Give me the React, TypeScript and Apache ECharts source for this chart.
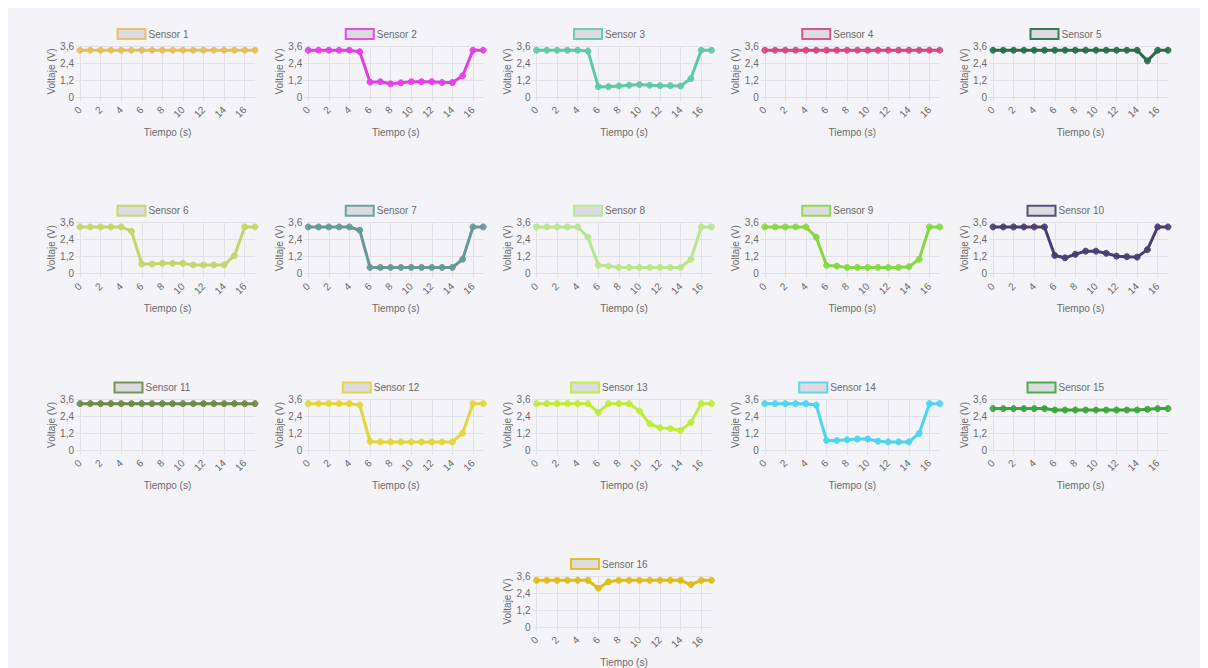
import React, { useEffect, useRef } from "react";
import * as echarts from "echarts";

// Time axis (seconds)
const tiempos = ["0", "1", "2", "3", "4", "5", "6", "7", "8", "9", "10", "11", "12", "13", "14", "15", "16", "17"];

// Voltage readings per sensor (V)
const sensor1 = [3.3, 3.3, 3.3, 3.3, 3.3, 3.3, 3.3, 3.3, 3.3, 3.3, 3.3, 3.3, 3.3, 3.3, 3.3, 3.3, 3.3, 3.3];
const sensor2 = [3.3, 3.3, 3.3, 3.3, 3.3, 3.2, 1.05, 1.08, 0.93, 1.0, 1.08, 1.08, 1.08, 1.02, 1.02, 1.5, 3.3, 3.3];
const sensor3 = [3.3, 3.3, 3.3, 3.3, 3.3, 3.25, 0.73, 0.73, 0.78, 0.83, 0.88, 0.83, 0.8, 0.8, 0.78, 1.3, 3.3, 3.3];
const sensor4 = [3.3, 3.3, 3.3, 3.3, 3.3, 3.3, 3.3, 3.3, 3.3, 3.3, 3.3, 3.3, 3.3, 3.3, 3.3, 3.3, 3.3, 3.3];
const sensor5 = [3.3, 3.3, 3.3, 3.3, 3.3, 3.3, 3.3, 3.3, 3.3, 3.3, 3.3, 3.3, 3.3, 3.3, 3.3, 2.55, 3.3, 3.3];
const sensor6 = [3.3, 3.3, 3.3, 3.3, 3.3, 3.0, 0.68, 0.68, 0.73, 0.73, 0.73, 0.62, 0.62, 0.62, 0.62, 1.27, 3.3, 3.3];
const sensor7 = [3.3, 3.3, 3.3, 3.3, 3.3, 3.07, 0.44, 0.44, 0.44, 0.44, 0.44, 0.44, 0.44, 0.44, 0.44, 1.02, 3.3, 3.3];
const sensor8 = [3.3, 3.3, 3.3, 3.3, 3.3, 2.58, 0.6, 0.54, 0.44, 0.44, 0.44, 0.44, 0.44, 0.44, 0.44, 1.02, 3.3, 3.3];
const sensor9 = [3.3, 3.3, 3.3, 3.3, 3.3, 2.58, 0.58, 0.54, 0.44, 0.44, 0.44, 0.44, 0.44, 0.44, 0.49, 1.02, 3.3, 3.3];
const sensor10 = [3.3, 3.3, 3.3, 3.3, 3.3, 3.3, 1.29, 1.12, 1.37, 1.59, 1.59, 1.44, 1.24, 1.2, 1.17, 1.7, 3.3, 3.3];
const sensor11 = [3.3, 3.3, 3.3, 3.3, 3.3, 3.3, 3.3, 3.3, 3.3, 3.3, 3.3, 3.3, 3.3, 3.3, 3.3, 3.3, 3.3, 3.3];
const sensor12 = [3.3, 3.3, 3.3, 3.3, 3.3, 3.2, 0.63, 0.6, 0.6, 0.6, 0.6, 0.6, 0.6, 0.6, 0.6, 1.22, 3.3, 3.3];
const sensor13 = [3.3, 3.3, 3.3, 3.3, 3.3, 3.3, 2.68, 3.3, 3.3, 3.3, 2.78, 1.88, 1.59, 1.54, 1.41, 1.98, 3.3, 3.3];
const sensor14 = [3.3, 3.3, 3.3, 3.3, 3.3, 3.2, 0.7, 0.7, 0.75, 0.8, 0.8, 0.65, 0.6, 0.6, 0.6, 1.2, 3.3, 3.3];
const sensor15 = [2.95, 2.95, 2.95, 2.95, 2.95, 2.95, 2.85, 2.85, 2.85, 2.85, 2.85, 2.85, 2.85, 2.85, 2.85, 2.9, 2.95, 2.95];
const sensor16 = [3.3, 3.3, 3.3, 3.3, 3.3, 3.3, 2.74, 3.2, 3.3, 3.3, 3.3, 3.3, 3.3, 3.3, 3.3, 3.0, 3.3, 3.3];

const nombres = [
  "Sensor 1", "Sensor 2", "Sensor 3", "Sensor 4", "Sensor 5", "Sensor 6", "Sensor 7", "Sensor 8",
  "Sensor 9", "Sensor 10", "Sensor 11", "Sensor 12", "Sensor 13", "Sensor 14", "Sensor 15", "Sensor 16",
];
const colores = [
  "#e6be5c", "#e53de6", "#5ecaa4", "#d5467f", "#286e48", "#c3d66a", "#669898", "#b8e58d",
  "#86d842", "#4a3d72", "#6a8a4a", "#e2d63a", "#bfec38", "#4cd5ee", "#3aa63a", "#e2bb14",
];
const lecturas = [
  sensor1, sensor2, sensor3, sensor4, sensor5, sensor6, sensor7, sensor8,
  sensor9, sensor10, sensor11, sensor12, sensor13, sensor14, sensor15, sensor16,
];

const FONT = "'Liberation Sans', Arial, Helvetica, sans-serif";
const TEXT = "#6b6b6b";
const GRID_LINE = "#e2e1e8";

export default function App() {
  const ref = useRef<HTMLDivElement>(null);

  useEffect(() => {
    if (!ref.current) return;
    const chart = echarts.init(ref.current, null, { renderer: "svg" });

    const grid: any[] = [];
    const xAxis: any[] = [];
    const yAxis: any[] = [];
    const series: any[] = [];
    const legend: any[] = [];

    nombres.forEach((nombre, i) => {
      const row = Math.floor(i / 5);
      const col = i === 15 ? 2 : i % 5;
      const left = 72 + 228.25 * col;
      const top = 38 + 176.7 * row;
      const textW = nombre.length > 8 ? 42 : 36;

      grid.push({ left, top, width: 175, height: 51 });

      legend.push({
        data: [nombre],
        left: 143 + 228.25 * col - (33 + textW) / 2,
        top: 20 + 176.7 * row,
        padding: 0,
        itemWidth: 28,
        itemHeight: 10,
        itemGap: 4,
        icon: "rect",
        selectedMode: false,
        itemStyle: { color: "#d9d8dd", borderColor: colores[i], borderWidth: 2 },
        textStyle: { color: TEXT, fontFamily: FONT, fontSize: 10, padding: [0, 0, 0, -2] },
      });

      xAxis.push({
        type: "category",
        gridIndex: i,
        data: tiempos,
        boundaryGap: false,
        name: "Tiempo (s)",
        nameLocation: "middle",
        nameGap: 30,
        nameTextStyle: { color: TEXT, fontFamily: FONT, fontSize: 10 },
        axisLine: { lineStyle: { color: GRID_LINE } },
        axisTick: { show: true, interval: 1, length: 4, lineStyle: { color: GRID_LINE } },
        axisLabel: { interval: 1, rotate: 45, color: TEXT, fontFamily: FONT, fontSize: 10, margin: 11 },
        splitLine: { show: true, interval: 1, lineStyle: { color: GRID_LINE } },
      });

      yAxis.push({
        type: "value",
        gridIndex: i,
        min: 0,
        max: 3.6,
        interval: 1.2,
        name: "Voltaje (V)",
        nameLocation: "middle",
        nameRotate: 90,
        nameGap: 24,
        nameTextStyle: { color: TEXT, fontFamily: FONT, fontSize: 10 },
        axisLine: { show: true, lineStyle: { color: GRID_LINE } },
        axisTick: { show: true, length: 4, lineStyle: { color: GRID_LINE } },
        axisLabel: {
          color: TEXT,
          fontFamily: FONT,
          fontSize: 10,
          margin: 6,
          formatter: (v: number) => String(Number(v.toFixed(1))).replace(".", ","),
        },
        splitLine: { show: true, lineStyle: { color: GRID_LINE } },
      });

      series.push({
        type: "line",
        name: nombre,
        xAxisIndex: i,
        yAxisIndex: i,
        data: lecturas[i],
        symbol: "circle",
        symbolSize: 6,
        lineStyle: { color: colores[i], width: 3 },
        itemStyle: { color: colores[i], borderColor: colores[i], borderWidth: 1, opacity: 0.9 },
      });
    });

    chart.setOption({
      animation: false,
      backgroundColor: "#f4f3f8",
      textStyle: { fontFamily: FONT },
      legend,
      grid,
      xAxis,
      yAxis,
      series,
    });

    return () => chart.dispose();
  }, []);

  return <div ref={ref} style={{ width: 1192, height: 660 }} />;
}
